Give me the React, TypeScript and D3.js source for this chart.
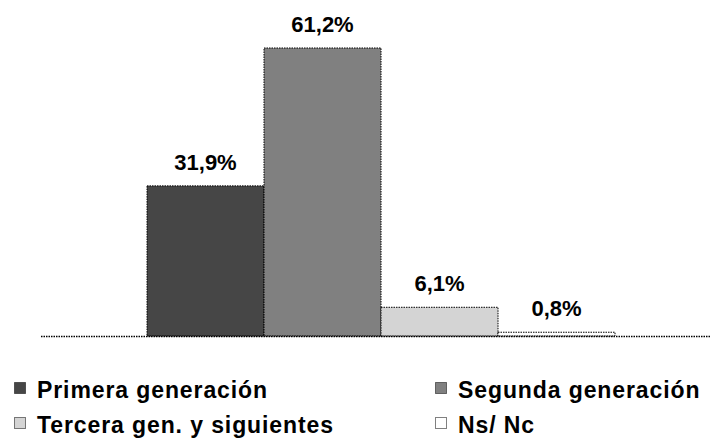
import * as d3 from 'd3';

const categories = [
  'Primera generación',
  'Segunda generación',
  'Tercera gen. y siguientes',
  'Ns/ Nc',
];
const values = [31.9, 61.2, 6.1, 0.8];
const colors = ['#464646', '#808080', '#d4d4d4', '#ffffff'];

const width = 710;
const height = 445;
const baseline = 336;

export default function App() {
  const x = d3.scaleBand<string>().domain(categories).range([147, 615]).padding(0);
  const y = d3.scaleLinear().domain([0, 61.2]).range([baseline, 48]);
  const fmt = (v: number) => v.toFixed(1).replace('.', ',') + '%';

  const legendPos = [
    { x: 14, y: 398 },
    { x: 435, y: 398 },
    { x: 14, y: 433 },
    { x: 435, y: 433 },
  ];

  return (
    <svg
      width={width}
      height={height}
      style={{ position: 'absolute', left: 0, top: 0, background: '#fff' }}
      fontFamily="'Liberation Sans', Arial, sans-serif"
    >
      {categories.map((c, i) => (
        <g key={c}>
          <rect
            x={x(c)}
            y={y(values[i])}
            width={x.bandwidth()}
            height={baseline - y(values[i])}
            fill={colors[i]}
            stroke="#000"
            strokeWidth={1}
            strokeDasharray="1.5,1"
          />
          <text
            x={(x(c) || 0) + x.bandwidth() / 2}
            y={y(values[i]) - 16}
            textAnchor="middle"
            fontWeight="bold"
            fontSize={22}
          >
            {fmt(values[i])}
          </text>
        </g>
      ))}
      <line
        x1={41}
        x2={710}
        y1={baseline + 0.5}
        y2={baseline + 0.5}
        stroke="#000"
        strokeWidth={1.5}
        strokeDasharray="1.5,1"
      />
      {categories.map((c, i) => (
        <g key={'l' + c} transform={`translate(${legendPos[i].x},${legendPos[i].y})`}>
          <rect
            x={0.5}
            y={-15.5}
            width={11}
            height={11}
            fill={colors[i]}
            stroke="#000"
            strokeWidth={1}
            strokeDasharray="1,1"
          />
          <text x={23} y={0} fontWeight="bold" fontSize={23} letterSpacing={0.9}>
            {c}
          </text>
        </g>
      ))}
    </svg>
  );
}
